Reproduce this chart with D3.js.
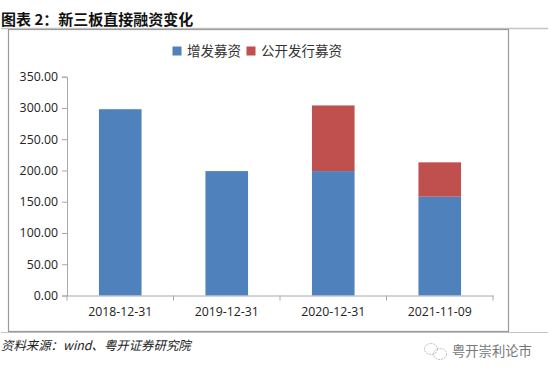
<!DOCTYPE html>
<html>
<head>
<meta charset="utf-8">
<script src="https://cdn.jsdelivr.net/npm/d3@7"></script>
<style>
html, body { margin: 0; padding: 0; background: #fff; }
svg { display: block; }
</style>
</head>
<body>
<div id="chart"></div>
<script>
var dates = ['2018-12-31', '2019-12-31', '2020-12-31', '2021-11-09'];
var seriesNames = ['增发募资', '公开发行募资'];
var seriesColors = ['#4f81bd', '#c0504d'];
var additional = [298, 199, 199, 158];
var publicOffer = [0, 0, 105, 55];
var yTicks = [0, 50, 100, 150, 200, 250, 300, 350];

var cjk = '"Noto Sans CJK SC", sans-serif';
var latin = '"Open Sans", "Noto Sans", sans-serif';

var svg = d3.select('#chart').append('svg')
    .attr('width', 550)
    .attr('height', 376);

// heading and the two rules round the chart
svg.append('text')
    .attr('x', 1).attr('y', 25)
    .attr('font-family', cjk)
    .attr('font-size', 15)
    .attr('font-weight', 700)
    .attr('fill', '#111')
    .text('图表 2：新三板直接融资变化');

svg.append('line').attr('x1', 1).attr('x2', 548).attr('y1', 28.5).attr('y2', 28.5)
    .attr('stroke', '#c4c4c4').attr('stroke-width', 1.5);
svg.append('line').attr('x1', 1).attr('x2', 548).attr('y1', 332.5).attr('y2', 332.5)
    .attr('stroke', '#c4c4c4').attr('stroke-width', 1);

svg.append('rect')
    .attr('x', 8.5).attr('y', 29.5)
    .attr('width', 500).attr('height', 302)
    .attr('fill', '#fff')
    .attr('stroke', '#9a9a9a').attr('stroke-width', 1.2);

var x = d3.scaleBand().domain(dates).range([67, 493]).paddingInner(0.6).paddingOuter(0.3);
var y = d3.scaleLinear().domain([0, 350]).range([295.5, 76.7]);

// stacked bars
var rows = dates.map(function(d, i) {
    return { date: d, a: additional[i], b: publicOffer[i] };
});
var stacked = d3.stack().keys(['a', 'b'])(rows);

svg.selectAll('g.series')
    .data(stacked)
    .enter().append('g')
    .attr('class', 'series')
    .attr('fill', function(d, i) { return seriesColors[i]; })
    .selectAll('rect')
    .data(function(d) { return d; })
    .enter().append('rect')
    .attr('x', function(d) { return x(d.data.date); })
    .attr('width', x.bandwidth())
    .attr('y', function(d) { return y(d[1]); })
    .attr('height', function(d) { return y(d[0]) - y(d[1]); });

// axes
var yAxis = d3.axisLeft(y).tickValues(yTicks).tickSize(5).tickPadding(4)
    .tickFormat(d3.format('.2f'));
var yG = svg.append('g').attr('transform', 'translate(67,0)').call(yAxis);

var band = (493 - 67) / dates.length;
var xAxis = d3.axisBottom(x).tickSize(0).tickPadding(12);
var xG = svg.append('g').attr('transform', 'translate(0,295.5)').call(xAxis);
d3.range(dates.length + 1).forEach(function(i) {
    xG.append('line')
        .attr('x1', 67 + i * band).attr('x2', 67 + i * band)
        .attr('y1', 0).attr('y2', 5)
        .attr('stroke', '#a8a8a8');
});

[yG, xG].forEach(function(g) {
    g.select('.domain').attr('stroke', '#a8a8a8').attr('stroke-width', 1);
    g.selectAll('.tick line').attr('stroke', '#a8a8a8');
    g.selectAll('text')
        .attr('font-family', latin)
        .attr('font-size', 12.3)
        .attr('fill', '#222');
});

// legend
var legend = [
    { x: 172.5, tx: 187, name: seriesNames[0], color: seriesColors[0] },
    { x: 246.5, tx: 261, name: seriesNames[1], color: seriesColors[1] }
];
legend.forEach(function(d) {
    svg.append('rect')
        .attr('x', d.x).attr('y', 46.5)
        .attr('width', 9).attr('height', 9)
        .attr('fill', d.color);
    svg.append('text')
        .attr('x', d.tx).attr('y', 56)
        .attr('font-family', cjk)
        .attr('font-size', 13.5)
        .attr('fill', '#333')
        .text(d.name);
});

// source line and watermark
svg.append('text')
    .attr('x', 1).attr('y', 350)
    .attr('font-family', cjk)
    .attr('font-size', 12.4)
    .attr('font-style', 'italic')
    .attr('fill', '#222')
    .text('资料来源：wind、粤开证券研究院');

svg.append('text')
    .attr('x', 452).attr('y', 356)
    .attr('font-family', cjk)
    .attr('font-size', 13.3)
    .attr('fill', '#777')
    .text('粤开崇利论市');

var wm = svg.append('g').attr('fill', 'none').attr('stroke', '#aaa').attr('stroke-width', 0.8)
    .attr('stroke-dasharray', '2 1');
wm.append('ellipse').attr('cx', 431).attr('cy', 349).attr('rx', 6.5).attr('ry', 5.5);
wm.append('ellipse').attr('cx', 440).attr('cy', 354).attr('rx', 6.5).attr('ry', 5.5);
</script>
</body>
</html>
